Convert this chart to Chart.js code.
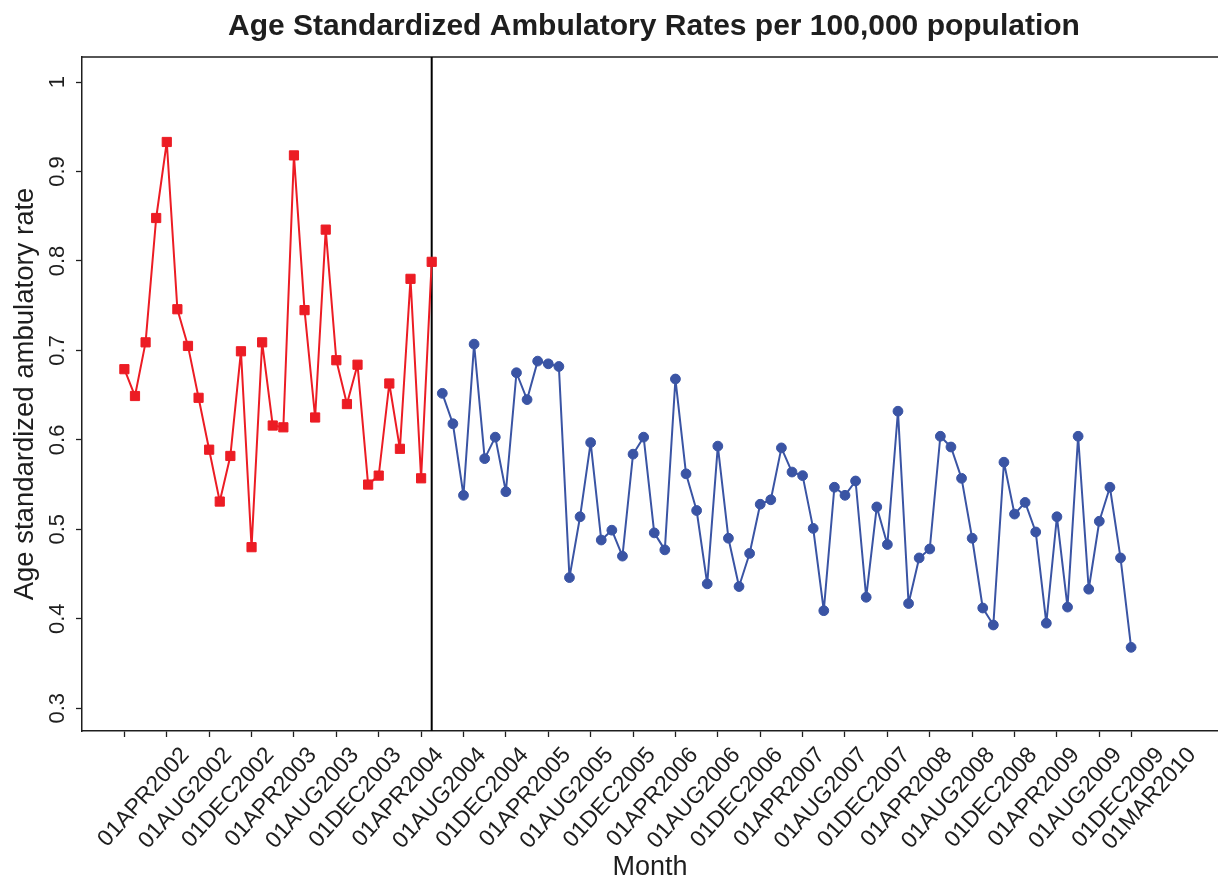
<!DOCTYPE html>
<html>
<head>
<meta charset="utf-8">
<title>Age Standardized Ambulatory Rates</title>
<script src="https://cdn.jsdelivr.net/npm/chart.js@4.4.1/dist/chart.umd.min.js"></script>
<style>
  html, body { margin: 0; padding: 0; background: #ffffff; overflow: hidden; }
  #wrap { width: 1218px; height: 878px; position: relative; }
</style>
</head>
<body>
<div id="wrap"><canvas id="chart" width="1218" height="878"></canvas></div>
<script>
// ---- text ----
const chartTitle = 'Age Standardized Ambulatory Rates per 100,000 population';
const xAxisTitle = 'Month';
const yAxisTitle = 'Age standardized ambulatory rate';

// ---- data (month index 0 = 01APR2002) ----
const preStartMonth = 0;     // first month of the pre-period series
const preRates = [
  0.679, 0.649, 0.709, 0.848, 0.933, 0.746, 0.705, 0.647, 0.589, 0.531,
  0.582, 0.699, 0.480, 0.709, 0.616, 0.614, 0.918, 0.745, 0.625, 0.835,
  0.689, 0.640, 0.684, 0.550, 0.560, 0.663, 0.590, 0.780, 0.557, 0.799
];

const postStartMonth = 30;   // first month of the post-period series
const postRates = [
  0.652, 0.618, 0.538, 0.707, 0.579, 0.603, 0.542, 0.675, 0.645, 0.688,
  0.685, 0.682, 0.446, 0.514, 0.597, 0.488, 0.499, 0.470, 0.584, 0.603,
  0.496, 0.477, 0.668, 0.562, 0.521, 0.439, 0.593, 0.490, 0.436, 0.473,
  0.528, 0.533, 0.591, 0.564, 0.560, 0.501, 0.409, 0.547, 0.538, 0.554,
  0.424, 0.525, 0.483, 0.632, 0.417, 0.468, 0.478, 0.604, 0.592, 0.557,
  0.490, 0.412, 0.393, 0.575, 0.517, 0.530, 0.497, 0.395, 0.514, 0.413,
  0.604, 0.433, 0.509, 0.547, 0.468, 0.368
];

const interventionMonth = 29; // vertical reference line

const xTickLabels = [
  '01APR2002', '01AUG2002', '01DEC2002', '01APR2003', '01AUG2003', '01DEC2003',
  '01APR2004', '01AUG2004', '01DEC2004', '01APR2005', '01AUG2005', '01DEC2005',
  '01APR2006', '01AUG2006', '01DEC2006', '01APR2007', '01AUG2007', '01DEC2007',
  '01APR2008', '01AUG2008', '01DEC2008', '01APR2009', '01AUG2009', '01DEC2009',
  '01MAR2010'
];

const yTickValues = [0.3, 0.4, 0.5, 0.6, 0.7, 0.8, 0.9, 1.0];

// ---- helpers ----
const MONTH_NAMES = ['JAN','FEB','MAR','APR','MAY','JUN','JUL','AUG','SEP','OCT','NOV','DEC'];
function monthIndex(label) {
  const m = MONTH_NAMES.indexOf(label.slice(2, 5));
  const y = parseInt(label.slice(5), 10);
  return (y - 2002) * 12 + m - 3;
}
const labelByMonth = {};
xTickLabels.forEach(l => { labelByMonth[monthIndex(l)] = l; });

const toPoints = (values, start) => values.map((v, i) => ({ x: start + i, y: v }));

const RED = '#EC1C24';
const BLUE = '#3A54A4';
const INK = '#1e1e1e';
const FONT = "'Liberation Sans', Arial, Helvetica, sans-serif";

Chart.defaults.font.family = FONT;
Chart.defaults.color = INK;

// plot frame top edge, intervention line and the heading
const decorations = {
  id: 'decorations',
  beforeDatasetsDraw(chart) {
    const { ctx, chartArea: a, scales } = chart;
    ctx.save();
    ctx.strokeStyle = INK;
    ctx.lineWidth = 1.5;
    ctx.beginPath();
    ctx.moveTo(a.left, a.top);
    ctx.lineTo(a.right, a.top);
    ctx.stroke();

    const px = scales.x.getPixelForValue(interventionMonth);
    ctx.strokeStyle = '#000';
    ctx.lineWidth = 2;
    ctx.beginPath();
    ctx.moveTo(px, a.top);
    ctx.lineTo(px, a.bottom);
    ctx.stroke();
    ctx.restore();
  },
  afterDraw(chart) {
    const { ctx, chartArea: a } = chart;
    ctx.save();
    ctx.font = 'bold 30px ' + FONT;
    ctx.fillStyle = INK;
    ctx.textAlign = 'center';
    ctx.textBaseline = 'alphabetic';
    ctx.fillText(chartTitle, (a.left + a.right) / 2 + 4, 35);
    ctx.restore();
  }
};

new Chart(document.getElementById('chart'), {
  type: 'line',
  data: {
    datasets: [
      {
        label: 'Pre',
        data: toPoints(preRates, preStartMonth),
        borderColor: RED,
        backgroundColor: RED,
        borderWidth: 2,
        borderJoinStyle: 'round',
        pointStyle: 'rect',
        pointRadius: 6.5,
        pointBorderWidth: 1,
        pointBackgroundColor: RED,
        pointBorderColor: RED,
        tension: 0
      },
      {
        label: 'Post',
        data: toPoints(postRates, postStartMonth),
        borderColor: BLUE,
        backgroundColor: BLUE,
        borderWidth: 2,
        borderJoinStyle: 'round',
        pointStyle: 'circle',
        pointRadius: 4.9,
        pointBorderWidth: 1,
        pointBackgroundColor: BLUE,
        pointBorderColor: BLUE,
        tension: 0
      }
    ]
  },
  options: {
    responsive: false,
    animation: false,
    devicePixelRatio: 1,
    layout: { autoPadding: false, padding: { top: 57, left: 0, right: 0, bottom: 0 } },
    plugins: {
      legend: { display: false },
      tooltip: { enabled: false },
      title: { display: false }
    },
    scales: {
      x: {
        type: 'linear',
        min: -4,
        max: 103.2,
        afterBuildTicks: s => { s.ticks = xTickLabels.map(l => ({ value: monthIndex(l) })); },
        afterFit: s => { s.height = 147; },
        grid: { drawOnChartArea: false, drawTicks: true, tickLength: 6, color: INK, tickWidth: 1.3 },
        border: { display: true, color: INK, width: 1.5 },
        ticks: {
          autoSkip: false,
          minRotation: 48,
          maxRotation: 48,
          labelOffset: 61,
          padding: 5,
          color: INK,
          font: { size: 23 },
          callback: v => labelByMonth[v]
        },
        title: {
          display: true,
          text: xAxisTitle,
          color: INK,
          font: { size: 27 },
          padding: { top: 0, bottom: -6 }
        }
      },
      y: {
        type: 'linear',
        min: 0.2745,
        max: 1.028,
        afterBuildTicks: s => { s.ticks = yTickValues.map(v => ({ value: v })); },
        afterFit: s => { s.width = 82; },
        grid: { drawOnChartArea: false, drawTicks: true, tickLength: 6, color: INK, tickWidth: 1.3 },
        border: { display: true, color: INK, width: 1.5 },
        ticks: {
          minRotation: 90,
          maxRotation: 90,
          crossAlign: 'center',
          padding: 3,
          color: INK,
          font: { size: 22 },
          callback: v => String(Math.round(v * 10) / 10)
        },
        title: {
          display: true,
          text: yAxisTitle,
          color: INK,
          font: { size: 27.5 },
          padding: { top: 9, bottom: 0 }
        }
      }
    }
  },
  plugins: [decorations]
});
</script>
</body>
</html>
